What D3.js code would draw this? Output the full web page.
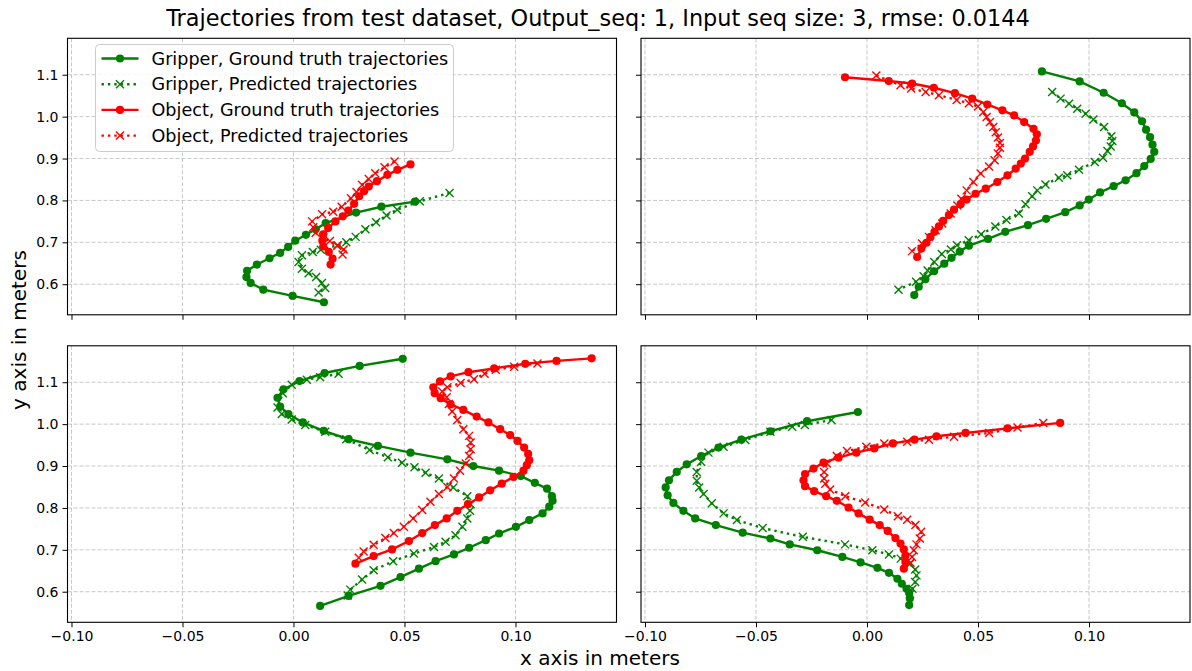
<!DOCTYPE html>
<html>
<head>
<meta charset="utf-8">
<script src="https://cdn.jsdelivr.net/npm/d3@7"></script>
<style>
  body { margin: 0; background: #fff; }
  svg { font-family: "DejaVu Sans", sans-serif; }
</style>
</head>
<body>
<div id="chart"></div>
<script>
// axis settings shared by all four panels
const xTicks = [-0.10, -0.05, 0.00, 0.05, 0.10];
const yTicks = [0.6, 0.7, 0.8, 0.9, 1.0, 1.1];
const xDomain = [-0.1018, 0.1455];
const yDomain = [0.527, 1.187];

const seriesNames = [
  "Gripper, Ground truth trajectories",
  "Gripper, Predicted trajectories",
  "Object, Ground truth trajectories",
  "Object, Predicted trajectories"
];

// panel 1 (top left)
const gripperTruth1 = [[0.0137,0.557],[-0.0004,0.572],[-0.0136,0.587],[-0.0193,0.603],[-0.0212,0.617],[-0.0209,0.632],[-0.0165,0.647],[-0.0108,0.662],[-0.0060,0.675],[-0.0024,0.689],[0.0008,0.704],[0.0056,0.718],[0.0100,0.731],[0.0145,0.746],[0.0282,0.771],[0.0396,0.785],[0.0547,0.797]];
const gripperPred1 = [[0.0703,0.818],[0.0569,0.798],[0.0467,0.778],[0.0419,0.764],[0.0372,0.748],[0.0324,0.731],[0.0280,0.713],[0.0238,0.700],[0.0199,0.693],[0.0123,0.682],[0.0087,0.677],[0.0038,0.669],[0.0023,0.653],[0.0038,0.637],[0.0068,0.626],[0.0102,0.617],[0.0128,0.603],[0.0143,0.591],[0.0113,0.580]];
const objectTruth1 = [[0.0527,0.886],[0.0468,0.873],[0.0423,0.861],[0.0376,0.846],[0.0339,0.833],[0.0318,0.822],[0.0296,0.810],[0.0273,0.792],[0.0247,0.776],[0.0222,0.762],[0.0189,0.750],[0.0156,0.734],[0.0134,0.719],[0.0130,0.704],[0.0134,0.690],[0.0159,0.677],[0.0176,0.661],[0.0167,0.647]];
const objectPred1 = [[0.0455,0.893],[0.0410,0.879],[0.0368,0.865],[0.0339,0.851],[0.0309,0.837],[0.0284,0.820],[0.0259,0.805],[0.0217,0.785],[0.0179,0.773],[0.0129,0.767],[0.0084,0.750],[0.0089,0.736],[0.0100,0.723],[0.0134,0.712],[0.0164,0.703],[0.0197,0.692],[0.0226,0.683],[0.0221,0.671]];

// panel 2 (top right)
const gripperTruth2 = [[0.0788,1.108],[0.0958,1.084],[0.1066,1.057],[0.1148,1.032],[0.1204,1.010],[0.1239,0.989],[0.1257,0.969],[0.1275,0.951],[0.1286,0.933],[0.1294,0.916],[0.1278,0.899],[0.1249,0.882],[0.1214,0.865],[0.1165,0.848],[0.1111,0.834],[0.1050,0.819],[0.0999,0.802],[0.0958,0.788],[0.0893,0.772],[0.0807,0.756],[0.0725,0.741],[0.0623,0.725],[0.0545,0.708],[0.0459,0.692],[0.0418,0.678],[0.0381,0.663],[0.0348,0.649],[0.0302,0.631],[0.0263,0.612],[0.0233,0.594],[0.0213,0.574]];
const gripperPred2 = [[0.0834,1.059],[0.0872,1.043],[0.0910,1.031],[0.0947,1.019],[0.0985,1.007],[0.1020,0.993],[0.1068,0.975],[0.1101,0.953],[0.1105,0.942],[0.1098,0.929],[0.1083,0.918],[0.1063,0.902],[0.1026,0.892],[0.0955,0.873],[0.0902,0.860],[0.0864,0.854],[0.0804,0.838],[0.0767,0.824],[0.0744,0.810],[0.0714,0.791],[0.0684,0.769],[0.0628,0.753],[0.0578,0.738],[0.0514,0.719],[0.0458,0.705],[0.0405,0.693],[0.0378,0.683],[0.0337,0.672],[0.0303,0.653],[0.0273,0.633],[0.0255,0.619],[0.0221,0.606],[0.0142,0.587]];
const objectTruth2 = [[-0.0099,1.094],[0.0098,1.085],[0.0203,1.079],[0.0301,1.069],[0.0396,1.056],[0.0474,1.043],[0.0542,1.029],[0.0610,1.015],[0.0663,1.003],[0.0708,0.987],[0.0750,0.971],[0.0765,0.958],[0.0761,0.943],[0.0748,0.929],[0.0733,0.916],[0.0712,0.900],[0.0693,0.888],[0.0670,0.876],[0.0633,0.860],[0.0587,0.844],[0.0535,0.828],[0.0489,0.816],[0.0449,0.802],[0.0422,0.791],[0.0392,0.778],[0.0369,0.765],[0.0343,0.751],[0.0324,0.738],[0.0304,0.725],[0.0286,0.713],[0.0268,0.699],[0.0245,0.685],[0.0226,0.665]];
const objectPred2 = [[0.0042,1.098],[0.0151,1.075],[0.0199,1.067],[0.0264,1.059],[0.0324,1.051],[0.0404,1.040],[0.0459,1.032],[0.0500,1.024],[0.0524,1.011],[0.0539,0.999],[0.0554,0.987],[0.0569,0.975],[0.0580,0.963],[0.0590,0.950],[0.0599,0.937],[0.0599,0.926],[0.0590,0.912],[0.0575,0.896],[0.0550,0.881],[0.0512,0.864],[0.0479,0.844],[0.0449,0.824],[0.0425,0.804],[0.0407,0.788],[0.0377,0.769],[0.0339,0.745],[0.0309,0.729],[0.0279,0.713],[0.0248,0.697],[0.0203,0.679]];

// panel 3 (bottom left)
const gripperTruth3 = [[0.0492,1.156],[0.0298,1.139],[0.0140,1.122],[0.0027,1.103],[-0.0045,1.083],[-0.0072,1.063],[-0.0060,1.042],[-0.0023,1.024],[0.0042,1.004],[0.0136,0.984],[0.0248,0.964],[0.0380,0.948],[0.0527,0.932],[0.0693,0.916],[0.0810,0.900],[0.0926,0.889],[0.1024,0.876],[0.1087,0.860],[0.1142,0.846],[0.1164,0.828],[0.1167,0.817],[0.1152,0.803],[0.1122,0.787],[0.1062,0.771],[0.1002,0.755],[0.0926,0.739],[0.0866,0.723],[0.0791,0.705],[0.0723,0.689],[0.0640,0.673],[0.0565,0.655],[0.0482,0.635],[0.0392,0.614],[0.0248,0.590],[0.0120,0.566]];
const gripperPred3 = [[0.0203,1.120],[0.0120,1.112],[0.0060,1.106],[-0.0008,1.094],[-0.0048,1.074],[-0.0072,1.040],[-0.0053,1.024],[-0.0008,1.011],[0.0053,0.998],[0.0143,0.982],[0.0238,0.964],[0.0343,0.938],[0.0425,0.921],[0.0489,0.908],[0.0545,0.897],[0.0595,0.884],[0.0655,0.870],[0.0720,0.849],[0.0783,0.828],[0.0798,0.809],[0.0795,0.793],[0.0783,0.775],[0.0761,0.755],[0.0730,0.735],[0.0685,0.719],[0.0633,0.707],[0.0542,0.691],[0.0449,0.673],[0.0361,0.651],[0.0309,0.629],[0.0256,0.605],[0.0244,0.591]];
const objectTruth3 = [[0.1343,1.157],[0.1185,1.151],[0.1044,1.144],[0.0904,1.133],[0.0788,1.124],[0.0708,1.114],[0.0660,1.102],[0.0630,1.088],[0.0636,1.074],[0.0663,1.062],[0.0708,1.047],[0.0765,1.034],[0.0825,1.018],[0.0878,1.004],[0.0931,0.988],[0.0976,0.974],[0.1009,0.960],[0.1039,0.944],[0.1057,0.929],[0.1062,0.914],[0.1051,0.902],[0.1036,0.889],[0.0991,0.874],[0.0938,0.858],[0.0886,0.842],[0.0836,0.825],[0.0786,0.809],[0.0738,0.793],[0.0690,0.775],[0.0637,0.759],[0.0580,0.740],[0.0520,0.721],[0.0444,0.701],[0.0361,0.685],[0.0279,0.667]];
const objectPred3 = [[0.1099,1.145],[0.0994,1.137],[0.0911,1.130],[0.0861,1.120],[0.0813,1.107],[0.0753,1.098],[0.0693,1.088],[0.0670,1.078],[0.0690,1.064],[0.0700,1.048],[0.0715,1.030],[0.0738,1.010],[0.0765,0.988],[0.0791,0.972],[0.0798,0.956],[0.0798,0.940],[0.0791,0.924],[0.0776,0.906],[0.0750,0.889],[0.0723,0.870],[0.0693,0.850],[0.0655,0.833],[0.0617,0.815],[0.0580,0.795],[0.0539,0.775],[0.0497,0.755],[0.0452,0.740],[0.0414,0.728],[0.0361,0.712],[0.0316,0.696],[0.0294,0.681]];

// panel 4 (bottom right)
const gripperTruth4 = [[-0.0041,1.029],[-0.0270,1.007],[-0.0435,0.983],[-0.0566,0.963],[-0.0669,0.944],[-0.0747,0.924],[-0.0812,0.904],[-0.0857,0.886],[-0.0892,0.866],[-0.0907,0.849],[-0.0898,0.830],[-0.0872,0.812],[-0.0827,0.793],[-0.0774,0.775],[-0.0681,0.759],[-0.0560,0.741],[-0.0435,0.727],[-0.0348,0.713],[-0.0224,0.699],[-0.0111,0.683],[-0.0029,0.670],[0.0047,0.657],[0.0099,0.645],[0.0137,0.631],[0.0157,0.619],[0.0178,0.607],[0.0190,0.597],[0.0193,0.584],[0.0190,0.568]];
const gripperPred4 = [[-0.0160,1.010],[-0.0280,0.998],[-0.0337,0.994],[-0.0435,0.982],[-0.0548,0.962],[-0.0646,0.946],[-0.0714,0.932],[-0.0747,0.910],[-0.0767,0.886],[-0.0767,0.865],[-0.0756,0.849],[-0.0736,0.833],[-0.0699,0.811],[-0.0646,0.787],[-0.0586,0.771],[-0.0470,0.752],[-0.0289,0.731],[-0.0099,0.713],[0.0024,0.699],[0.0099,0.689],[0.0152,0.679],[0.0193,0.666],[0.0217,0.653],[0.0223,0.639],[0.0217,0.623],[0.0205,0.607],[0.0194,0.594]];
const objectTruth4 = [[0.0870,1.003],[0.0633,0.990],[0.0444,0.979],[0.0313,0.971],[0.0214,0.963],[0.0117,0.954],[0.0033,0.942],[-0.0048,0.932],[-0.0128,0.920],[-0.0196,0.908],[-0.0241,0.894],[-0.0279,0.881],[-0.0286,0.866],[-0.0279,0.852],[-0.0238,0.840],[-0.0184,0.828],[-0.0136,0.817],[-0.0083,0.801],[-0.0038,0.787],[0.0012,0.772],[0.0057,0.759],[0.0093,0.745],[0.0128,0.728],[0.0151,0.715],[0.0166,0.701],[0.0173,0.686],[0.0173,0.671],[0.0166,0.655]];
const objectPred4 = [[0.0794,1.003],[0.0678,0.992],[0.0550,0.979],[0.0392,0.970],[0.0279,0.963],[0.0181,0.958],[0.0078,0.954],[-0.0003,0.946],[-0.0090,0.936],[-0.0136,0.924],[-0.0181,0.906],[-0.0193,0.886],[-0.0193,0.870],[-0.0188,0.858],[-0.0166,0.844],[-0.0098,0.828],[-0.0008,0.813],[0.0078,0.796],[0.0139,0.780],[0.0181,0.772],[0.0218,0.759],[0.0244,0.743],[0.0238,0.727],[0.0223,0.713],[0.0211,0.699],[0.0203,0.683],[0.0196,0.669]];

// panels: [row, col, series in draw order]
const panels = [
  { row: 0, col: 0, series: [gripperTruth1, gripperPred1, objectTruth1, objectPred1] },
  { row: 0, col: 1, series: [gripperTruth2, gripperPred2, objectTruth2, objectPred2] },
  { row: 1, col: 0, series: [gripperTruth3, gripperPred3, objectTruth3, objectPred3] },
  { row: 1, col: 1, series: [gripperTruth4, gripperPred4, objectTruth4, objectPred4] }
];

// styles
const colors = ["#008000", "#008000", "#ff0000", "#ff0000"];
const predicted = [false, true, false, true];

const width = 1192, height = 671;
const colLeft = [67.5, 641], colW = 549;
const rowTop = [38.3, 345.8], rowH = 276.5;

const svg = d3.select("#chart")
  .append("svg")
    .attr("width", width)
    .attr("height", height);

function drawMarks(g, d, i, x, y) {
  const line = d3.line().x(p => x(p[0])).y(p => y(p[1]));
  g.append("path")
    .datum(d)
    .attr("d", line)
    .attr("fill", "none")
    .attr("stroke", colors[i])
    .attr("stroke-width", 2.4)
    .attr("stroke-dasharray", predicted[i] ? "2.4,4" : null);
  if (predicted[i]) {
    const s = 4;
    g.append("g").selectAll("path")
      .data(d)
      .join("path")
        .attr("transform", p => `translate(${x(p[0])},${y(p[1])})`)
        .attr("d", `M${-s},${-s}L${s},${s}M${-s},${s}L${s},${-s}`)
        .attr("stroke", colors[i])
        .attr("stroke-width", 1.4)
        .attr("fill", "none");
  } else {
    g.append("g").selectAll("circle")
      .data(d)
      .join("circle")
        .attr("cx", p => x(p[0]))
        .attr("cy", p => y(p[1]))
        .attr("r", 4.1)
        .attr("fill", colors[i]);
  }
}

panels.forEach(function(p) {
  const left = colLeft[p.col], top = rowTop[p.row];
  const x = d3.scaleLinear().domain(xDomain).range([left, left + colW]);
  const y = d3.scaleLinear().domain(yDomain).range([top + rowH, top]);
  const g = svg.append("g");

  // grid
  g.append("g").selectAll("line")
    .data(xTicks)
    .join("line")
      .attr("x1", d => x(d)).attr("x2", d => x(d))
      .attr("y1", top).attr("y2", top + rowH)
      .attr("stroke", "#b0b0b0").attr("stroke-opacity", 0.7)
      .attr("stroke-width", 1).attr("stroke-dasharray", "4,2");
  g.append("g").selectAll("line")
    .data(yTicks)
    .join("line")
      .attr("y1", d => y(d)).attr("y2", d => y(d))
      .attr("x1", left).attr("x2", left + colW)
      .attr("stroke", "#b0b0b0").attr("stroke-opacity", 0.7)
      .attr("stroke-width", 1).attr("stroke-dasharray", "4,2");

  // series
  p.series.forEach((d, i) => drawMarks(g, d, i, x, y));

  // axes
  const xAxis = d3.axisBottom(x).tickValues(xTicks).tickSize(5).tickPadding(4)
    .tickFormat(p.row === 1 ? d3.format(".2f") : "");
  g.append("g")
    .attr("transform", `translate(0,${top + rowH})`)
    .call(xAxis)
    .call(a => a.select(".domain").remove())
    .attr("font-size", 14).attr("font-family", "DejaVu Sans");
  const yAxis = d3.axisLeft(y).tickValues(yTicks).tickSize(5).tickPadding(4)
    .tickFormat(p.col === 0 ? d3.format(".1f") : "");
  g.append("g")
    .attr("transform", `translate(${left},0)`)
    .call(yAxis)
    .call(a => a.select(".domain").remove())
    .attr("font-size", 14).attr("font-family", "DejaVu Sans");

  // spines
  g.append("rect")
    .attr("x", left).attr("y", top)
    .attr("width", colW).attr("height", rowH)
    .attr("fill", "none").attr("stroke", "#000").attr("stroke-width", 1.1);
});

// legend in the first panel
const legend = svg.append("g").attr("transform", "translate(95.5,44.5)");
legend.append("rect")
  .attr("width", 358).attr("height", 107).attr("rx", 4)
  .attr("fill", "#fff").attr("fill-opacity", 0.8)
  .attr("stroke", "#cccccc").attr("stroke-width", 1);
seriesNames.forEach(function(name, i) {
  const ly = 14 + i * 25.7;
  const row = legend.append("g").attr("transform", `translate(0,${ly})`);
  row.append("line")
    .attr("x1", 6).attr("x2", 43)
    .attr("stroke", colors[i]).attr("stroke-width", 2.4)
    .attr("stroke-dasharray", predicted[i] ? "2.4,4" : null);
  if (predicted[i]) {
    row.append("path")
      .attr("d", "M20.5,-4L28.5,4M20.5,4L28.5,-4")
      .attr("stroke", colors[i]).attr("stroke-width", 1.4);
  } else {
    row.append("circle").attr("cx", 24.5).attr("cy", 0).attr("r", 4.1).attr("fill", colors[i]);
  }
  row.append("text")
    .attr("x", 56).attr("y", 0).attr("dy", "0.35em")
    .attr("font-size", 17.6)
    .text(name);
});

// titles
svg.append("text")
  .attr("x", 598).attr("y", 18).attr("dy", "0.35em")
  .attr("text-anchor", "middle").attr("font-size", 22.4)
  .text("Trajectories from test dataset, Output_seq: 1, Input seq size: 3, rmse: 0.0144");
svg.append("text")
  .attr("x", 600).attr("y", 658).attr("dy", "0.35em")
  .attr("text-anchor", "middle").attr("font-size", 20)
  .text("x axis in meters");
svg.append("text")
  .attr("transform", "translate(19,330) rotate(-90)")
  .attr("dy", "0.35em")
  .attr("text-anchor", "middle").attr("font-size", 20)
  .text("y axis in meters");
</script>
</body>
</html>
